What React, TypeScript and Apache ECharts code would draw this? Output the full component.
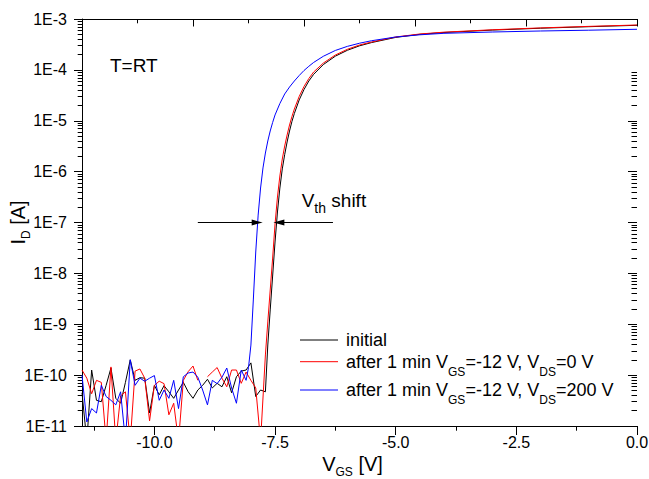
import React, { useEffect, useRef } from "react";
import * as echarts from "echarts";

const FONT = "'Liberation Sans', Arial, Helvetica, sans-serif";

// ---- axis ticks ----
const xTickValues = [-10, -7.5, -5, -2.5, 0];
const xMinorTickValues = [-11.25, -8.75, -6.25, -3.75, -1.25];
const decadeExponents = [-11, -10, -9, -8, -7, -6, -5, -4];
const rightMajorExponents = [-11, -10, -9, -8, -7, -6, -5];
const minorMultipliers = [2, 3, 4, 5, 6, 7, 8, 9];

// ---- series: [V_GS (V), I_D (A)] ----
const initialCurve: [number, number | null][] = [
  [-11.5, 4.5e-11], [-11.4, 5e-12], [-11.3, 1.26e-10], [-11.2, 3.2e-11], [-11.1, 3.0e-11],
  [-11.0, 6.3e-11], [-10.9, 1.38e-10], [-10.8, 3.5e-11], [-10.7, 2.8e-11], [-10.6, 7.2e-11],
  [-10.5, 2.0e-10], [-10.4, 7.9e-11], [-10.3, 8.9e-11], [-10.2, 8.7e-11], [-10.1, 1.8e-11],
  [-10.0, 6.3e-11], [-9.9, 4.1e-11], [-9.8, 6.2e-11], [-9.7, 4.7e-11], [-9.6, 3.5e-11],
  [-9.5, 5.1e-11], [-9.4, 7.2e-11], [-9.3, 4.7e-11], [-9.2, 3.5e-11], [-9.1, 5.1e-11],
  [-9.0, 6.3e-11], [-8.9, 8.3e-11], [-8.8, 5.6e-11], [-8.7, 6.9e-11], [-8.6, 5.9e-11],
  [-8.5, 9.3e-11], [-8.4, 4.5e-11], [-8.3, 9.3e-11], [-8.2, 1.2e-10], [-8.1, 1.26e-10],
  [-8.0, 1.74e-10], [-7.9, 3.8e-11], [-7.8, 5.1e-11], [-7.7, 4.7e-11], [-7.65, 3.91e-10],
  [-7.6, 1.91e-9], [-7.55, 8.87e-9], [-7.5, 4.14e-8], [-7.45, 1.61e-7], [-7.4, 4.76e-7],
  [-7.35, 1.13e-6], [-7.3, 2.17e-6], [-7.25, 3.82e-6], [-7.2, 6.28e-6], [-7.15, 9.66e-6],
  [-7.1, 1.39e-5], [-7.0, 2.56e-5], [-6.9, 4.11e-5], [-6.8, 6.04e-5], [-6.7, 8.18e-5],
  [-6.5, 1.27e-4], [-6.25, 1.86e-4], [-6.0, 2.43e-4], [-5.75, 2.97e-4], [-5.5, 3.44e-4],
  [-5.0, 4.35e-4], [-4.5, 5.0e-4], [-4.0, 5.43e-4], [-3.0, 6.05e-4], [-2.0, 6.59e-4],
  [-1.0, 7.06e-4], [0, 7.52e-4],
];

const stressVds0Curve: [number, number | null][] = [
  [-11.5, 1.26e-10], [-11.4, 8.7e-11], [-11.3, 4.3e-11], [-11.2, 7.9e-11], [-11.1, 7.2e-11],
  [-11.0, 5e-12], [-10.9, 1.45e-10], [-10.8, 5e-12], [-10.7, 3.9e-11], [-10.6, 4.7e-11],
  [-10.5, 5e-12], [-10.4, 1.2e-10], [-10.3, 1.32e-10], [-10.2, 8.7e-11], [-10.1, 1.26e-11],
  [-10.0, 6.3e-11], [-9.9, 7.6e-11], [-9.8, 6.8e-11], [-9.7, 1.66e-11], [-9.6, 2.8e-11],
  [-9.5, 5e-12], [-9.4, 7.9e-11], [-9.3, 1.17e-10], [-9.2, 1.51e-10], [-9.1, 7.9e-11],
  [-9.0, null], [-8.9, 9.3e-11], [-8.8, 1.15e-10], [-8.7, 1.41e-10], [-8.6, 8.7e-11],
  [-8.5, 5.9e-11], [-8.4, 1.26e-10], [-8.3, 1.26e-10], [-8.2, 6.9e-11], [-8.1, 1.15e-10],
  [-8.0, 7.9e-11], [-7.9, 5.6e-11], [-7.8, 5e-12], [-7.7, 2.49e-10], [-7.65, 1.11e-9],
  [-7.6, 4.71e-9], [-7.55, 2.0e-8], [-7.5, 9.35e-8], [-7.45, 3.17e-7], [-7.4, 8.2e-7],
  [-7.35, 1.77e-6], [-7.3, 3.19e-6], [-7.25, 5.25e-6], [-7.2, 8.25e-6], [-7.15, 1.21e-5],
  [-7.1, 1.7e-5], [-7.0, 3.0e-5], [-6.9, 4.71e-5], [-6.8, 6.76e-5], [-6.7, 9.08e-5],
  [-6.5, 1.36e-4], [-6.25, 1.96e-4], [-6.0, 2.54e-4], [-5.75, 3.08e-4], [-5.5, 3.53e-4],
  [-5.0, 4.43e-4], [-4.5, 5.07e-4], [-4.0, 5.51e-4], [-3.0, 6.14e-4], [-2.0, 6.68e-4],
  [-1.0, 7.16e-4], [0, 7.62e-4],
];

const stressVds200Curve: [number, number | null][] = [
  [-11.5, 1.0e-10], [-11.4, 1.2e-11], [-11.3, 2.2e-11], [-11.2, 1.8e-11], [-11.1, 6.3e-11],
  [-11.0, 3.8e-11], [-10.9, 3.2e-11], [-10.8, 2.6e-11], [-10.7, 4.7e-11], [-10.6, 5e-12],
  [-10.5, 2.0e-10], [-10.4, 6.3e-11], [-10.3, 8.7e-11], [-10.2, 7.6e-11], [-10.1, 8.7e-11],
  [-10.0, 9.8e-11], [-9.9, 3.2e-11], [-9.8, 5.1e-11], [-9.7, 3.5e-11], [-9.6, 7.9e-11],
  [-9.5, 2.2e-11], [-9.4, 9.3e-11], [-9.3, 1.1e-10], [-9.2, 1.15e-10], [-9.1, 9.1e-11],
  [-9.0, 5.1e-11], [-8.9, 2.6e-11], [-8.8, 7.9e-11], [-8.7, 6.8e-11], [-8.6, 9.1e-11],
  [-8.5, 1.38e-10], [-8.4, 5.6e-11], [-8.3, 2.8e-11], [-8.2, 1.26e-10], [-8.1, 7.9e-11],
  [-8.05, 1.41e-10], [-8.0, 3.9e-10], [-7.95, 3e-9], [-7.9, 2.63e-8], [-7.85, 1.4e-7],
  [-7.8, 4.76e-7], [-7.75, 1.18e-6], [-7.7, 2.32e-6], [-7.65, 4.0e-6], [-7.6, 6.29e-6],
  [-7.55, 9.25e-6], [-7.5, 1.3e-5], [-7.4, 2.18e-5], [-7.3, 3.36e-5], [-7.2, 4.6e-5],
  [-7.1, 6.04e-5], [-7.0, 7.74e-5], [-6.9, 9.72e-5], [-6.8, 1.175e-4], [-6.7, 1.4e-4],
  [-6.5, 1.85e-4], [-6.25, 2.41e-4], [-6.0, 2.9e-4], [-5.75, 3.34e-4], [-5.5, 3.74e-4],
  [-5.0, 4.43e-4], [-4.5, 4.89e-4], [-4.0, 5.23e-4], [-3.0, 5.55e-4], [-2.0, 5.81e-4],
  [-1.0, 6.02e-4], [0, 6.28e-4],
];

// V_th shift arrows at I_D = 1E-7 A
const shiftArrowLeft: [number, number][] = [[-9.1, 1e-7], [-7.87, 1e-7]];
const shiftArrowRight: [number, number][] = [[-6.3, 1e-7], [-7.42, 1e-7]];

const seriesColors = ["#000000", "#ff0000", "#0000ff"];
const legendTexts = [
  "initial",
  "{m|after 1 min V}{s|GS}{m|=-12 V, V}{s|DS}{m|=0 V}",
  "{m|after 1 min V}{s|GS}{m|=-12 V, V}{s|DS}{m|=200 V}",
];
const seriesNames = [
  "initial",
  "after 1 min VGS=-12 V, VDS=0 V",
  "after 1 min VGS=-12 V, VDS=200 V",
];

export default function App() {
  const ref = useRef<HTMLDivElement>(null);

  useEffect(() => {
    if (!ref.current) return;
    const chart = echarts.init(ref.current, undefined, { renderer: "svg" });

    const leftMinor: number[] = [];
    decadeExponents.forEach((e) =>
      minorMultipliers.forEach((k) => leftMinor.push(e + Math.log10(k)))
    );
    const rightMinor: number[] = [];
    rightMajorExponents.forEach((e) =>
      minorMultipliers.forEach((k) => rightMinor.push(e + Math.log10(k)))
    );

    const black = { color: "#000", width: 1 };
    const gridRect = { left: 82, right: 12, top: 19, bottom: 53, containLabel: false, outerBoundsMode: "none" };

    const legendRich = {
      m: { fontSize: 18, lineHeight: 40, fontFamily: FONT, fill: "#000" },
      s: { fontSize: 12, lineHeight: 12, padding: [20, 0, 0, 0], fontFamily: FONT, fill: "#000" },
    };
    const legendRowsY = [340, 361.7, 390];

    const graphics: any[] = [];
    legendTexts.forEach((t, i) => {
      const y = legendRowsY[i];
      graphics.push({
        type: "line",
        shape: { x1: 300, y1: y, x2: 338, y2: y },
        style: { stroke: seriesColors[i], lineWidth: 1 },
        silent: true,
      });
      graphics.push({
        type: "text",
        x: 346,
        y,
        style: {
          text: t,
          fontSize: 18,
          fontFamily: FONT,
          fill: "#000",
          align: "left",
          verticalAlign: "middle",
          textAlign: "left",
          textVerticalAlign: "middle",
          rich: legendRich,
        },
        silent: true,
      });
    });
    graphics.push({
      type: "text",
      x: 110,
      y: 65,
      style: {
        text: "T=RT",
        fontSize: 19,
        fontFamily: FONT,
        fill: "#000",
        align: "left",
        verticalAlign: "middle",
        textAlign: "left",
        textVerticalAlign: "middle",
      },
      silent: true,
    });
    graphics.push({
      type: "text",
      x: 301.7,
      y: 200,
      style: {
        text: "{m|V}{s|th}{m| shift}",
        fontSize: 19,
        fontFamily: FONT,
        fill: "#000",
        align: "left",
        verticalAlign: "middle",
        textAlign: "left",
        textVerticalAlign: "middle",
        rich: {
          m: { fontSize: 19, lineHeight: 40, fontFamily: FONT, fill: "#000" },
          s: { fontSize: 14, lineHeight: 14, padding: [16, 0, 0, 0], fontFamily: FONT, fill: "#000" },
        },
      },
      silent: true,
    });

    const nameRich = {
      m: { fontSize: 20, lineHeight: 22, fontFamily: FONT, color: "#000" },
      s: { fontSize: 12, lineHeight: 6, padding: [16, 0, 0, 0], fontFamily: FONT, color: "#000" },
    };

    const curves = [initialCurve, stressVds0Curve, stressVds200Curve];

    const option: any = {
      animation: false,
      backgroundColor: "#fff",
      textStyle: { fontFamily: FONT },
      grid: [{ ...gridRect }, { ...gridRect }],
      xAxis: [
        {
          gridIndex: 0,
          type: "value",
          position: "bottom",
          min: -11.5,
          max: 0,
          axisLine: { show: true, onZero: false, lineStyle: black },
          axisTick: { show: true, customValues: xTickValues, length: 9, inside: false, lineStyle: black },
          minorTick: { show: false },
          axisLabel: {
            show: true,
            customValues: xTickValues,
            formatter: (v: number) => v.toFixed(1),
            fontSize: 16,
            fontFamily: FONT,
            color: "#000",
            margin: 8,
          },
          splitLine: { show: false },
          name: "{m|V}{s|GS}{m| [V]}",
          nameLocation: "middle",
          nameGap: 27,
          nameMoveOverlap: false,
          nameTextStyle: { rich: nameRich, padding: [0, 14, 0, 0] },
        },
        {
          gridIndex: 0,
          type: "value",
          position: "top",
          min: 0,
          max: 10,
          interval: 2,
          axisLine: { show: true, onZero: false, lineStyle: black },
          axisTick: { show: true, inside: true, length: 7.5, lineStyle: black },
          minorTick: { show: true, splitNumber: 2, length: 4.3, lineStyle: black },
          axisLabel: { show: false },
          splitLine: { show: false },
          minorSplitLine: { show: false },
        },
        {
          gridIndex: 1,
          type: "value",
          position: "bottom",
          min: -11.5,
          max: 0,
          axisLine: { show: false, onZero: false },
          axisTick: { show: true, customValues: xMinorTickValues, length: 4.7, inside: false, lineStyle: black },
          axisLabel: { show: false },
          splitLine: { show: false },
        },
      ],
      yAxis: [
        {
          gridIndex: 0,
          type: "log",
          logBase: 10,
          position: "left",
          min: 1e-11,
          max: 1e-3,
          interval: 1,
          axisLine: { show: true, onZero: false, lineStyle: black },
          axisTick: { show: true, length: 8, inside: false, lineStyle: black },
          minorTick: { show: false },
          axisLabel: {
            show: true,
            formatter: (v: number) => "1E" + Math.round(Math.log10(v)),
            fontSize: 16,
            fontFamily: FONT,
            color: "#000",
            margin: 15,
          },
          splitLine: { show: false },
          name: "{m|I}{s|D}{m| [A]}",
          nameLocation: "middle",
          nameGap: 53,
          nameMoveOverlap: false,
          nameTextStyle: { rich: nameRich },
        },
        {
          gridIndex: 0,
          type: "value",
          position: "right",
          min: -11,
          max: -3,
          axisLine: { show: false, onZero: false },
          axisTick: { show: true, inside: true, customValues: rightMajorExponents, length: 9, lineStyle: black },
          axisLabel: { show: false },
          splitLine: { show: false },
        },
        {
          gridIndex: 1,
          type: "value",
          position: "left",
          min: -11,
          max: -3,
          axisLine: { show: false, onZero: false },
          axisTick: { show: true, inside: false, customValues: leftMinor, length: 4.3, lineStyle: black },
          axisLabel: { show: false },
          splitLine: { show: false },
        },
        {
          gridIndex: 1,
          type: "value",
          position: "right",
          min: -11,
          max: -3,
          axisLine: { show: false, onZero: false },
          axisTick: { show: true, inside: true, customValues: rightMinor, length: 5.5, lineStyle: black },
          axisLabel: { show: false },
          splitLine: { show: false },
        },
      ],
      series: curves.map((c, i) => ({
        name: seriesNames[i],
        type: "line",
        xAxisIndex: 0,
        yAxisIndex: 0,
        data: c,
        showSymbol: false,
        symbol: "none",
        connectNulls: false,
        clip: true,
        color: seriesColors[i],
        lineStyle: { color: seriesColors[i], width: 1 },
        z: 2 + i,
        markLine:
          i === 0
            ? {
                silent: true,
                symbol: ["none", "triangle"],
                symbolSize: [6, 11],
                lineStyle: { color: "#000", width: 1, type: "solid" },
                label: { show: false },
                emphasis: { disabled: true },
                data: [
                  [{ coord: shiftArrowLeft[0] }, { coord: shiftArrowLeft[1] }],
                  [{ coord: shiftArrowRight[0] }, { coord: shiftArrowRight[1] }],
                ],
              }
            : undefined,
      })),
      graphic: graphics,
    };

    chart.setOption(option);
    return () => chart.dispose();
  }, []);

  return (
    <div
      ref={ref}
      style={{ position: "fixed", left: 0, top: 0, width: 649, height: 479, background: "#fff" }}
    />
  );
}
